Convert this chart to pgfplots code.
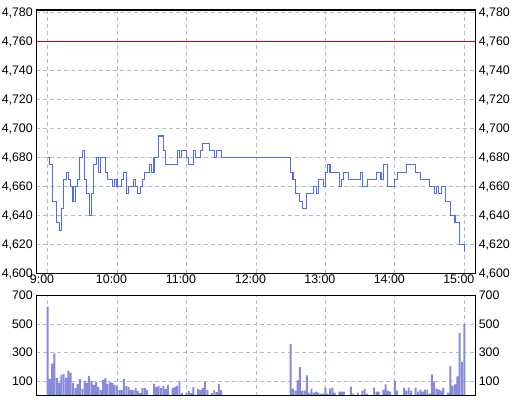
\documentclass[border=0pt]{standalone}
\usepackage{pgfplots}
\pgfplotsset{compat=1.18}
\usepackage{pgfplotstable}
\usepackage{fontspec}
\setmainfont{Liberation Sans}
\definecolor{gridc}{RGB}{170,190,215}
\definecolor{pricec}{RGB}{80,110,235}
\definecolor{volc}{RGB}{136,138,218}
\definecolor{refc}{RGB}{200,0,0}

\pgfplotstableread{
t p
0 4680
2 4675
4 4650
8 4635
10 4630
12 4645
14 4665
16 4670
18 4665
20 4660
22 4650
24 4660
26 4665
28 4680
30 4685
32 4665
34 4655
36 4640
38 4655
40 4675
42 4680
44 4670
46 4680
50 4670
52 4665
56 4660
58 4665
60 4660
64 4665
66 4670
68 4655
70 4660
74 4665
76 4660
78 4655
80 4660
82 4665
84 4670
88 4675
90 4670
92 4680
96 4695
100 4685
102 4675
112 4685
114 4680
116 4685
120 4680
122 4675
126 4685
128 4680
132 4685
134 4690
140 4685
144 4680
146 4685
150 4680
210 4670
212 4665
214 4655
218 4650
220 4645
224 4655
230 4660
232 4655
234 4665
238 4660
240 4670
242 4675
244 4670
252 4660
254 4665
256 4670
260 4665
270 4670
272 4660
276 4665
284 4670
288 4665
290 4675
294 4660
300 4665
302 4670
310 4675
318 4670
322 4665
330 4660
334 4655
336 4660
338 4655
340 4660
344 4650
348 4640
352 4635
356 4620
360 4615
}\pricetable

\pgfplotstableread{
t v
0 620
2 117
4 224
6 295
8 124
10 88
12 145
14 152
16 124
18 174
20 160
22 88
24 52
26 81
28 117
30 45
32 102
34 88
36 138
38 102
40 74
42 95
44 60
46 38
48 110
50 124
52 81
54 95
56 88
58 74
60 67
62 38
64 38
66 117
68 67
70 60
72 38
74 38
76 52
78 31
80 17
82 52
84 52
86 38
92 81
94 60
96 67
98 52
100 67
102 45
104 74
108 52
110 60
112 67
114 102
116 17
120 17
122 31
124 17
126 60
130 45
132 38
134 52
136 95
138 38
142 17
144 38
146 24
148 81
150 38
210 360
212 49
214 35
216 106
218 198
220 35
222 35
224 141
226 21
228 49
230 21
232 28
234 21
236 14
238 14
240 56
242 14
244 49
246 56
248 21
252 28
254 28
256 28
262 63
264 14
268 21
272 35
274 49
276 14
282 56
284 28
286 28
290 42
292 78
294 35
296 28
300 99
302 35
308 56
310 35
312 56
314 35
318 56
320 28
322 42
324 28
326 42
328 42
330 14
332 148
334 99
336 49
338 42
340 35
342 56
346 21
348 205
350 70
352 78
354 134
356 438
358 233
360 501
}\voltable

\pgfplotsset{
  base/.style={
    scale only axis, width=439bp, xmin=-9.7, xmax=369.5,
    xtick={0,60,120,180,240,300,360},
    major tick length=0pt,
    grid=major,
    major grid style={color=gridc, dash pattern=on 4bp off 3bp, line width=0.8bp},
    axis line style={black, line width=1bp},
    tick label style={font=\fontsize{12.4bp}{14bp}\selectfont},
    /pgf/number format/assume math mode=true,
    /pgf/number format/1000 sep={,},
  },
}

\begin{document}
\begin{tikzpicture}
\path[use as bounding box] (0,0) rectangle (515bp,-404bp);
% top price panel
\begin{axis}[base, at={(36.3bp,-10bp)}, anchor=north west, height=263.5bp,
  ymin=4600, ymax=4782, ytick={4600,4620,4640,4660,4680,4700,4720,4740,4760,4780},
  xticklabels={9:00,10:00,11:00,12:00,13:00,14:00,15:00},
  xticklabel style={xshift=-5.5bp, inner sep=1.5bp}]
\addplot[refc, line width=1bp] coordinates {(-9.7,4760) (369.5,4760)};
\addplot[const plot mark left, pricec, line width=1.1bp] table[x=t,y=p] {\pricetable};
\end{axis}
\begin{axis}[base, at={(36.3bp,-10bp)}, anchor=north west, height=263.5bp,
  ymin=4600, ymax=4782, ytick={4600,4620,4640,4660,4680,4700,4720,4740,4760,4780},
  yticklabel pos=right, xtick=\empty, grid=none]
\addplot[draw=none] coordinates {(0,4700)};
\end{axis}
% bottom volume panel
\begin{axis}[base, at={(36.3bp,-295.5bp)}, anchor=north west, height=100bp,
  ymin=0, ymax=700, ytick={100,300,500,700},
  xticklabels={,,,,,,}]
\addplot[ybar, bar width=1.7, fill=volc, draw=none] table[x=t,y=v] {\voltable};
\end{axis}
\begin{axis}[base, at={(36.3bp,-295.5bp)}, anchor=north west, height=100bp,
  ymin=0, ymax=700, ytick={100,300,500,700},
  yticklabel pos=right, xtick=\empty, grid=none]
\addplot[draw=none] coordinates {(0,300)};
\end{axis}
\end{tikzpicture}
\end{document}
